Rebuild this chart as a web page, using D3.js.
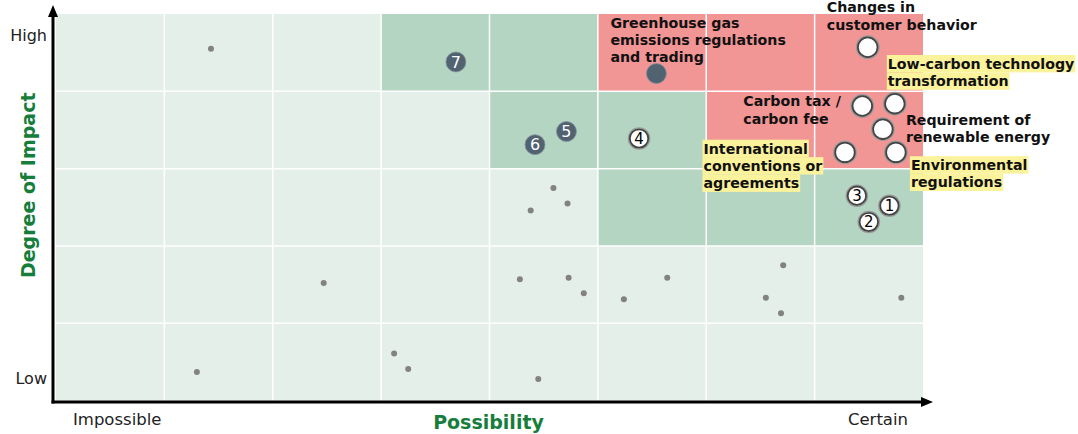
<!DOCTYPE html>
<html>
<head>
<meta charset="utf-8">
<script src="https://cdn.jsdelivr.net/npm/d3@7"></script>
<style>
  body { margin: 0; background: #fff; }
  text { font-family: "DejaVu Sans", Verdana, sans-serif; }
</style>
</head>
<body>
<svg id="chart"></svg>
<script>
// shading level of every cell, rows listed from the top (0 low, 1 medium, 2 high)
const cellLevels = [
  [0, 0, 0, 1, 1, 2, 2, 2],
  [0, 0, 0, 0, 1, 1, 2, 2],
  [0, 0, 0, 0, 0, 1, 1, 1],
  [0, 0, 0, 0, 0, 0, 0, 0],
  [0, 0, 0, 0, 0, 0, 0, 0]
];

// minor risks (small grey dots)
const minorX = [1.43, 2.47, 1.30, 3.12, 3.25, 4.45, 4.28, 4.73, 4.87, 5.24, 5.64, 4.59, 4.38, 4.72, 6.71, 6.55, 6.69, 7.80];
const minorY = [4.55, 1.52, 0.37, 0.61, 0.41, 0.28, 1.57, 1.59, 1.39, 1.31, 1.59, 2.75, 2.46, 2.55, 1.75, 1.33, 1.13, 1.33];

// numbered risks
const numIds = ["7", "5", "6", "4", "3", "1", "2"];
const numX = [3.69, 4.71, 4.42, 5.38, 7.39, 7.69, 7.50];
const numY = [4.38, 3.48, 3.31, 3.39, 2.65, 2.52, 2.31];
const numGroup = ["dark", "dark", "dark", "light", "light", "light", "light"];

// named key risks
const keyLabels = [
  ["Greenhouse gas", "emissions regulations", "and trading"],
  ["Changes in", "customer behavior"],
  ["Low-carbon technology", "transformation"],
  ["Carbon tax /", "carbon fee"],
  ["Requirement of", "renewable energy"],
  ["International", "conventions or", "agreements"],
  ["Environmental", "regulations"]
];
const keyX = [5.54, 7.49, 7.74, 7.44, 7.63, 7.28, 7.75];
const keyY = [4.23, 4.57, 3.84, 3.81, 3.51, 3.21, 3.21];
const keyGroup = ["dark", "light", "light", "light", "light", "light", "light"];

const yTickValues = [0.29, 4.72];
const yTickLabels = ["Low", "High"];
const xTickValues = [0.56, 7.58];
const xTickLabels = ["Impossible", "Certain"];

// label placement (px offsets from the marker) and highlighting
const labelOffsets = [[-46, -51], [-41, -40], [-7, -40], [-119, -5], [23, -9.5], [-141.5, -4], [15, 12.5]];
const labelHighlight = [false, false, true, false, false, true, true];

const width = 1078, height = 434;
const levelColor = ["#e5efe9", "#b4d5c2", "#f29595"];
const green = "#177d3b";

const svg = d3.select("#chart").attr("width", width).attr("height", height);

const x = d3.scaleLinear().domain([0, 8]).range([56, 923]);
const y = d3.scaleLinear().domain([0, 5]).range([400.6, 14]);

// cells
const cells = [];
cellLevels.forEach((row, r) => row.forEach((lv, c) => cells.push({ r, c, lv })));
svg.append("g").selectAll("rect")
  .data(cells)
  .join("rect")
  .attr("x", d => x(d.c))
  .attr("y", d => y(5 - d.r))
  .attr("width", d => x(d.c + 1) - x(d.c))
  .attr("height", d => y(4 - d.r) - y(5 - d.r))
  .attr("fill", d => levelColor[d.lv]);

// white grid lines
const grid = svg.append("g").attr("stroke", "#fff").attr("stroke-width", 1.5);
grid.selectAll(".gx").data(d3.range(1, 8)).join("line")
  .attr("x1", d => x(d)).attr("x2", d => x(d))
  .attr("y1", y(5)).attr("y2", y(0));
grid.selectAll(".gy").data(d3.range(1, 5)).join("line")
  .attr("x1", x(0)).attr("x2", x(8))
  .attr("y1", d => y(d)).attr("y2", d => y(d));

// axes with arrows
const ax0 = x(0) - 3, ay0 = y(0) + 1.5;
svg.append("line")
  .attr("x1", ax0 - 1.5).attr("y1", ay0).attr("x2", x(8) - 1).attr("y2", ay0)
  .attr("stroke", "#000").attr("stroke-width", 3);
svg.append("path")
  .attr("d", `M${x(8) - 2},${ay0 - 5}L${x(8) + 10},${ay0}L${x(8) - 2},${ay0 + 5}Z`)
  .attr("fill", "#000");
svg.append("line")
  .attr("x1", ax0).attr("y1", ay0 + 1.5).attr("x2", ax0).attr("y2", y(5) + 2)
  .attr("stroke", "#000").attr("stroke-width", 3);
svg.append("path")
  .attr("d", `M${ax0 - 5},${y(5) + 3}L${ax0},${y(5) - 9}L${ax0 + 5},${y(5) + 3}Z`)
  .attr("fill", "#000");

const yAxis = d3.axisLeft(y)
  .tickValues(yTickValues)
  .tickSize(0).tickPadding(0)
  .tickFormat((d, i) => yTickLabels[i]);
const gy = svg.append("g").attr("transform", `translate(${ax0 - 6},0)`).call(yAxis);
gy.select(".domain").remove();
gy.selectAll("text").attr("font-size", 16).attr("fill", "#222")
  .style("font-family", '"DejaVu Sans", Verdana, sans-serif');

const xAxis = d3.axisBottom(x)
  .tickValues(xTickValues)
  .tickSize(0).tickPadding(11)
  .tickFormat((d, i) => xTickLabels[i]);
const gx = svg.append("g").attr("transform", `translate(0,${ay0})`).call(xAxis);
gx.select(".domain").remove();
gx.selectAll("text").attr("font-size", 16.5).attr("fill", "#222")
  .style("font-family", '"DejaVu Sans", Verdana, sans-serif');

// axis titles
svg.append("text")
  .attr("x", (x(0) + x(8)) / 2 - 1).attr("y", 422).attr("dy", "0.35em")
  .attr("text-anchor", "middle").attr("font-size", 19).attr("font-weight", "bold")
  .attr("fill", green).text("Possibility");
svg.append("text")
  .attr("transform", `translate(28.5,${(y(0) + y(5)) / 2 - 22}) rotate(-90)`)
  .attr("dy", "0.35em")
  .attr("text-anchor", "middle").attr("font-size", 19).attr("font-weight", "bold")
  .attr("fill", green).text("Degree of Impact");

// minor dots
svg.append("g").selectAll("circle")
  .data(minorX.map((v, i) => [v, minorY[i]]))
  .join("circle")
  .attr("cx", d => x(d[0])).attr("cy", d => y(d[1]))
  .attr("r", 3).attr("fill", "#828282");

function drawMarker(g, group, big) {
  if (group === "dark") {
    g.append("circle").attr("r", 10).attr("fill", "#516270")
      .attr("stroke", "#8593a0").attr("stroke-width", 0.8);
  } else {
    const r = big ? 9.8 : 9.2;
    g.append("circle").attr("r", r + 1.4).attr("fill", "none")
      .attr("stroke", "#9a9a9a").attr("stroke-width", 1.4);
    g.append("circle").attr("r", r).attr("fill", "#fff")
      .attr("stroke", "#444").attr("stroke-width", 1.8);
  }
}

// numbered markers
const nums = svg.append("g").selectAll("g")
  .data(numIds.map((id, i) => ({ id, x: numX[i], y: numY[i], g: numGroup[i] })))
  .join("g")
  .attr("transform", d => `translate(${x(d.x)},${y(d.y)})`);
nums.each(function (d) { drawMarker(d3.select(this), d.g, false); });
nums.append("text")
  .attr("text-anchor", "middle").attr("dy", "0.36em")
  .attr("font-size", d => d.g === "dark" ? 16 : 15)
  .attr("fill", d => d.g === "dark" ? "#fff" : "#000")
  .text(d => d.id);

// key risks with labels
const keys = keyLabels.map((lines, i) => ({
  lines, x: x(keyX[i]), y: y(keyY[i]), g: keyGroup[i],
  off: labelOffsets[i], hl: labelHighlight[i]
}));

const labelG = svg.append("g");
keys.forEach(k => {
  const m = svg.append("g").attr("transform", `translate(${k.x},${k.y})`);
  drawMarker(m, k.g, true);
  const lh = 17.4;
  k.lines.forEach((line, j) => {
    const cy = k.y + k.off[1] + j * lh;
    const t = labelG.append("text")
      .attr("x", k.x + k.off[0]).attr("y", cy).attr("dy", "0.36em")
      .attr("font-size", 14.2).attr("font-weight", "bold").attr("fill", "#111")
      .text(line);
    if (k.hl) {
      const b = t.node().getBBox();
      labelG.insert("rect", () => t.node())
        .attr("x", b.x - 1).attr("y", cy - lh / 2)
        .attr("width", b.width + 2).attr("height", lh)
        .attr("fill", "#fbf29c");
    }
  });
});
</script>
</body>
</html>
